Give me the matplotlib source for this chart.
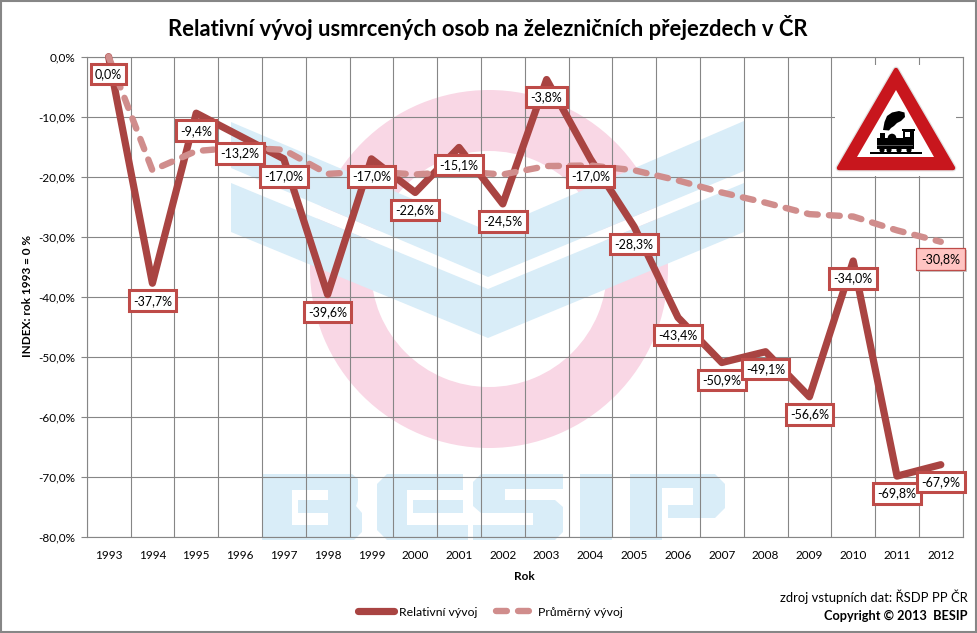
import matplotlib
matplotlib.use("Agg")
import matplotlib.pyplot as plt
from matplotlib.patches import Polygon, Circle, Wedge, Rectangle

plt.rcParams['font.family'] = ['Lato', 'DejaVu Sans']

years = [1993, 1994, 1995, 1996, 1997, 1998, 1999, 2000, 2001, 2002,
         2003, 2004, 2005, 2006, 2007, 2008, 2009, 2010, 2011, 2012]
relative = [0.0, -37.7, -9.4, -13.2, -17.0, -39.6, -17.0, -22.6, -15.1, -24.5,
            -3.8, -17.0, -28.3, -43.4, -50.9, -49.1, -56.6, -34.0, -69.8, -67.9]
average = [0.0, -18.9, -15.7, -15.1, -15.5, -19.5, -19.1, -19.6, -19.1, -19.6,
           -18.2, -18.1, -18.9, -20.6, -22.6, -24.3, -26.2, -26.6, -28.9, -30.8]
y_ticks = [0, -10, -20, -30, -40, -50, -60, -70, -80]

W, H = 978, 633
GRID = '#868686'
RED = '#A94442'
PINK = '#D08D8C'
BORDER = '#BE4B48'
BLUE = '#D9EDF8'
RING = '#F9D7E5'

def comma(v):
    return f'{v:.1f}'.replace('.', ',') + '%'

fig = plt.figure(figsize=(W / 100, H / 100), dpi=100, facecolor='white')

# ---- watermark, in pixel coordinates, behind the chart
bg = fig.add_axes([0, 0, 1, 1], zorder=0)
bg.set_xlim(0, W); bg.set_ylim(H, 0); bg.axis('off')

def poly(ax, pts, color, z=1):
    ax.add_patch(Polygon(pts, closed=True, fc=color, ec='none', zorder=z))

def rect(ax, x0, y0, x1, y1, color, z=1):
    ax.add_patch(Rectangle((x0, y0), x1 - x0, y1 - y0, fc=color, ec='none', zorder=z))

bg.add_patch(Wedge((489, 269), 179, 0, 360, width=61, fc=RING, ec='none', zorder=1))
poly(bg, [(231, 168), (488, 277), (744, 171), (744, 183), (488, 289), (231, 183)], 'white', 2)
poly(bg, [(231, 122), (488, 231), (744, 121), (744, 171), (488, 277), (231, 168)], BLUE, 3)
poly(bg, [(231, 183), (488, 289), (744, 183), (744, 232), (488, 338), (231, 232)], BLUE, 3)

# BESIP letters
T, B_ = 474, 540
# B
poly(bg, [(262, T), (352, T), (358, T + 5), (358, 500), (356, 506), (362, 513), (362, 532), (354, B_), (262, B_)], BLUE)
rect(bg, 292, 490, 328, 500, 'white', 2)
rect(bg, 292, 513, 328, 525, 'white', 2)
rect(bg, 292, 490, 298, 525, 'white', 2)
# E
poly(bg, [(387, T), (463, T), (463, 490), (407, 490), (407, 525), (468, 525), (468, B_), (387, B_), (377, 530), (377, 484)], BLUE)
rect(bg, 413, 500, 463, 513, BLUE, 2)
# S
poly(bg, [(481, T), (563, T), (563, 489), (505, 489), (505, 500), (555, 500), (563, 507), (563, 532), (555, B_), (473, B_),
          (473, 525), (533, 525), (533, 513), (481, 513), (473, 506), (473, 482)], BLUE)
# I
rect(bg, 580, T, 612, B_, BLUE)
# P
poly(bg, [(630, T), (715, T), (725, 484), (725, 508), (715, 518), (668, 518), (668, 505), (693, 505), (693, 488),
          (662, 488), (662, B_), (630, B_)], BLUE)

# ---- main chart
L, R, TOP, BOT = 86.7, 962.7, 56.7, 537.4
ax = fig.add_axes([L / W, 1 - BOT / H, (R - L) / W, (BOT - TOP) / H], zorder=1)
ax.patch.set_visible(False)
xs = list(range(len(years)))
ax.set_xlim(-0.5, len(years) - 0.5)
ax.set_ylim(-80, 0)
ax.set_yticks(y_ticks)
ax.set_yticklabels([comma(v) for v in y_ticks])
ax.set_xticks(xs)
ax.set_xticklabels([str(y) for y in years])
ax.set_xticks([x - 0.5 for x in range(len(years) + 1)], minor=True)
ax.tick_params(axis='x', which='major', length=0, pad=9, labelsize=8.5, colors='black')
ax.tick_params(axis='x', which='minor', length=0)
ax.tick_params(axis='y', length=4, width=0.8, color=GRID, pad=4.5, labelsize=8.5)
ax.grid(True, axis='y', which='major', color=GRID, lw=0.8)
ax.grid(True, axis='x', which='minor', color=GRID, lw=0.8)
ax.grid(False, axis='x', which='major')
ax.set_axisbelow(True)
for s in ax.spines.values():
    s.set_color(GRID); s.set_linewidth(0.8)

l1, = ax.plot(xs, relative, color=RED, lw=5.2, solid_capstyle='round', solid_joinstyle='round',
              clip_on=False, zorder=3, label='Relativní vývoj')
l2, = ax.plot(xs, average, color=PINK, lw=4.6, dash_capstyle='round', dash_joinstyle='round',
              dashes=(1.7, 1.75), clip_on=False, zorder=4, label='Průměrný vývoj')

for x, v in zip(xs, relative):
    ax.annotate(comma(v), (x, v), xytext=(0, -12.6), textcoords='offset points', ha='center', va='center',
                fontsize=9, zorder=6,
                bbox=dict(boxstyle='square,pad=0.34', fc='white', ec=BORDER, lw=2.2))
# the closing value of the average series
sx, sv = xs[-1], average[-1]
ax.annotate(comma(sv), (sx, sv), xytext=(1, -13.6), textcoords='offset points', ha='center', va='center',
            fontsize=9, color=(0, 0, 0, 0), zorder=5,
            bbox=dict(boxstyle='square,pad=0.40', fc='#C9C9C9', ec='none'))
ax.annotate(comma(sv), (sx, sv), xytext=(0, -12.6), textcoords='offset points', ha='center', va='center',
            fontsize=9, zorder=6,
            bbox=dict(boxstyle='square,pad=0.40', fc='#FFC4C2', ec=BORDER, lw=0.9))

# ---- road sign, on a white plate above the grid
fg = fig.add_axes([0, 0, 1, 1], zorder=2)
fg.set_xlim(0, W); fg.set_ylim(H, 0); fg.axis('off'); fg.patch.set_visible(False)
rect(fg, 835, 65, 956, 176, 'white', 1)
fg.add_patch(Polygon([(896, 70), (839, 168), (953, 168)], closed=True, fc='#C8161D', ec='#E2E2E2',
                     lw=5.0, joinstyle='round', zorder=2))
fg.add_patch(Polygon([(896, 70), (839, 168), (953, 168)], closed=True, fc='#C8161D', ec='#C8161D',
                     lw=3.2, joinstyle='round', zorder=3))
poly(fg, [(896, 90), (857, 157), (934, 157)], 'white', 4)
rect(fg, 869.5, 152, 921.5, 154.3, 'black', 5)
rect(fg, 877, 137.5, 913, 148.5, 'black', 5)
rect(fg, 902.5, 129.5, 913.5, 148.5, 'black', 5)
rect(fg, 901.5, 129, 914.5, 131, 'black', 5)
rect(fg, 905, 132, 910, 136.5, 'white', 6)
rect(fg, 880, 133, 885, 138, 'black', 5)
fg.add_patch(Circle((892, 138), 4.3, fc='black', ec='none', zorder=5))
for wx in (882, 889, 899, 909):
    fg.add_patch(Circle((wx, 150), 2.6, fc='black', ec='none', zorder=5))
rect(fg, 877, 145, 913, 146, '#555555', 6)
poly(fg, [(883, 130), (884.5, 122), (887, 116), (892, 112.5), (899, 111), (904.5, 112.5), (905, 117), (901, 121),
          (897, 123), (894, 126), (891, 128), (889, 130.5)], 'black', 5)

# ---- texts
fig.text(488 / W, 1 - 27 / H, 'Relativní vývoj usmrcených osob na železničních přejezdech v ČR',
         ha='center', va='center', fontsize=15.85, fontweight='bold')
fig.text(28 / W, 1 - 296 / H, 'INDEX: rok 1993 = 0 %', rotation=90, ha='center', va='center',
         fontsize=8.5, fontweight='bold')
fig.text(524 / W, 1 - 576 / H, 'Rok', ha='center', va='center', fontsize=8.5, fontweight='bold')
fig.text(968 / W, 1 - 597 / H, 'zdroj vstupních dat: ŘSDP PP ČR', ha='right', va='center', fontsize=9.4)
fig.text(968 / W, 1 - 615.5 / H, 'Copyright © 2013  BESIP', ha='right', va='center', fontsize=9.2, fontweight='bold')

leg = fig.legend(handles=[l1, l2], loc='center', bbox_to_anchor=(490 / W, 1 - 612 / H), ncol=2, frameon=False,
                 fontsize=8.8, handlelength=3.0, columnspacing=1.5, handletextpad=0.4)

# ---- outer frame
fig.add_artist(Rectangle((0.0012, 0.0016), 1 - 0.0034, 1 - 0.0032, transform=fig.transFigure, fill=False,
                         ec=GRID, lw=1.5))

fig.savefig('out.png', dpi=100)
